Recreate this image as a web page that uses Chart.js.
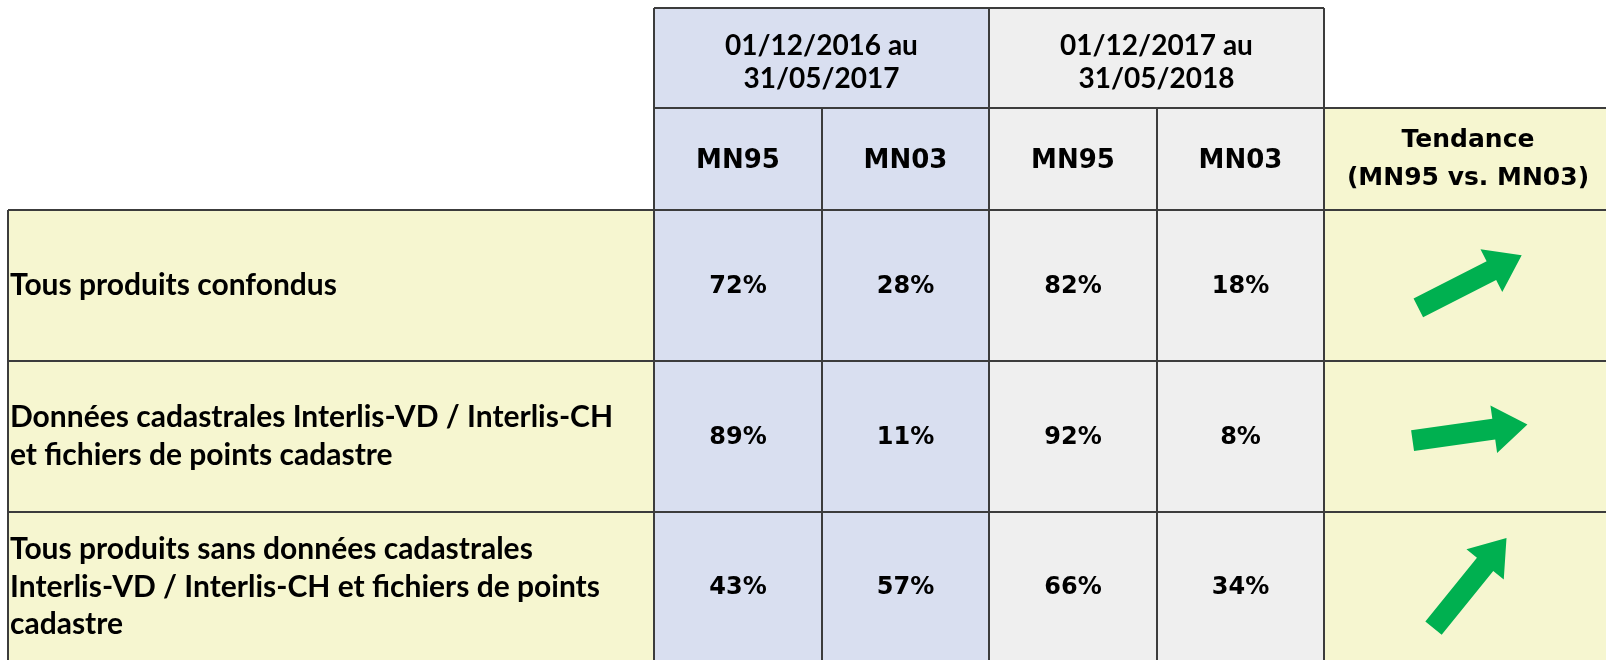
<!DOCTYPE html>
<html>
<head>
<meta charset="utf-8">
<script src="https://cdn.jsdelivr.net/npm/chart.js@4.4.1/dist/chart.umd.min.js"></script>
<style>
    html, body { margin: 0; padding: 0; background: #ffffff; }
</style>
</head>
<body>
<canvas id="tableChart" width="1606" height="660"></canvas>
<script>
// Table content
const periods = [['01/12/2016 au', '31/05/2017'], ['01/12/2017 au', '31/05/2018']];
const systems = ['MN95', 'MN03'];
const categories = [
    ['Tous produits confondus'],
    ['Données cadastrales Interlis-VD / Interlis-CH', 'et fichiers de points cadastre'],
    ['Tous produits sans données cadastrales', 'Interlis-VD / Interlis-CH et fichiers de points', 'cadastre']
];
const trendTitle = ['Tendance', '(MN95 vs. MN03)'];

// Shares in % per period and system
const mn95Period1 = [72, 89, 43];
const mn03Period1 = [28, 11, 57];
const mn95Period2 = [82, 92, 66];
const mn03Period2 = [18, 8, 34];
const valueColumns = [mn95Period1, mn03Period1, mn95Period2, mn03Period2];

// Trend arrow angles (degrees above horizontal)
const trendAngles = [27, 8, 51];

// Grid layout in scale units (x: 0..1606, y: 0..660)
const colEdges = [8, 654, 822, 989, 1157, 1324, 1606];
const rowEdges = [8, 108, 210, 361, 512, 664];

const periodColors = ['#d9dff0', '#efefef'];
const yellow = '#f6f6d0';
const lineColor = '#3c3c3c';
const green = '#00b050';

const labelFont = 'bold 30px Lato';
const periodFont = 'bold 28px Lato';
const headFont = 'bold 26px "DejaVu Sans"';
const valueFont = 'bold 24px "DejaVu Sans"';
const trendFont = 'bold 25px "DejaVu Sans"';

// Draws the whole table through the chart's scales
const tablePlugin = {
    id: 'tablePlugin',
    beforeDatasetsDraw(chart) {
        const ctx = chart.ctx;
        const xs = chart.scales.x;
        const ys = chart.scales.y;
        const px = v => xs.getPixelForValue(v);
        const py = v => ys.getPixelForValue(v);
        const lastRow = rowEdges[rowEdges.length - 1];

        function fillCell(x0, x1, y0, y1, color) {
            ctx.fillStyle = color;
            ctx.fillRect(px(x0), py(y0), px(x1) - px(x0), py(y1) - py(y0));
        }
        function line(x0, y0, x1, y1) {
            ctx.beginPath();
            ctx.moveTo(px(x0), py(y0));
            ctx.lineTo(px(x1), py(y1));
            ctx.stroke();
        }
        function text(lines, cx, cy, font, spacing, align) {
            ctx.font = font;
            ctx.fillStyle = '#000000';
            ctx.textAlign = align || 'center';
            ctx.textBaseline = 'middle';
            const start = cy - (lines.length - 1) * spacing / 2;
            lines.forEach((t, i) => ctx.fillText(t, px(cx), py(start + i * spacing)));
        }
        function drawArrow(cx, cy, angle) {
            const len = 116, shaft = 21, headW = 48, headL = 34;
            ctx.save();
            ctx.translate(px(cx), py(cy));
            ctx.rotate(-angle * Math.PI / 180);
            ctx.fillStyle = green;
            ctx.beginPath();
            ctx.moveTo(-len / 2, -shaft / 2);
            ctx.lineTo(len / 2 - headL, -shaft / 2);
            ctx.lineTo(len / 2 - headL, -headW / 2);
            ctx.lineTo(len / 2, 0);
            ctx.lineTo(len / 2 - headL, headW / 2);
            ctx.lineTo(len / 2 - headL, shaft / 2);
            ctx.lineTo(-len / 2, shaft / 2);
            ctx.closePath();
            ctx.fill();
            ctx.restore();
        }

        ctx.save();

        // backgrounds
        fillCell(colEdges[0], colEdges[1], rowEdges[2], lastRow, yellow);
        periods.forEach((p, i) => {
            fillCell(colEdges[1 + 2 * i], colEdges[3 + 2 * i], rowEdges[0], lastRow, periodColors[i]);
        });
        fillCell(colEdges[5], colEdges[6], rowEdges[1], lastRow, yellow);

        // grid lines
        ctx.strokeStyle = lineColor;
        ctx.lineWidth = 2;
        line(colEdges[1], rowEdges[0], colEdges[5], rowEdges[0]);
        line(colEdges[1], rowEdges[1], colEdges[6], rowEdges[1]);
        for (let r = 2; r < rowEdges.length - 1; r++) {
            line(colEdges[0], rowEdges[r], colEdges[6], rowEdges[r]);
        }
        line(colEdges[0], rowEdges[2], colEdges[0], lastRow);
        [1, 3, 5].forEach(c => line(colEdges[c], rowEdges[0], colEdges[c], lastRow));
        [2, 4].forEach(c => line(colEdges[c], rowEdges[1], colEdges[c], lastRow));

        // header texts
        periods.forEach((p, i) => {
            const cx = (colEdges[1 + 2 * i] + colEdges[3 + 2 * i]) / 2;
            text(p, cx, (rowEdges[0] + rowEdges[1]) / 2 + 4, periodFont, 33);
            systems.forEach((s, j) => {
                const c = 1 + 2 * i + j;
                text([s], (colEdges[c] + colEdges[c + 1]) / 2, (rowEdges[1] + rowEdges[2]) / 2 + 2, headFont, 0);
            });
        });
        text(trendTitle, (colEdges[5] + colEdges[6]) / 2 + 3, (rowEdges[1] + rowEdges[2]) / 2, trendFont, 38);

        // body rows
        categories.forEach((lines, r) => {
            const y0 = rowEdges[2 + r];
            const y1 = rowEdges[3 + r];
            const cy = r === 2 ? 587 : (y0 + y1) / 2;
            text(lines, colEdges[0] + 2, cy, labelFont, 37.5, 'left');
            valueColumns.forEach((col, c) => {
                text([col[r] + '%'], (colEdges[1 + c] + colEdges[2 + c]) / 2, cy + 1, valueFont, 0);
            });
            drawArrow((colEdges[5] + colEdges[6]) / 2 + 5, cy - 4, trendAngles[r]);
        });

        ctx.restore();
    }
};

const ctx = document.getElementById('tableChart').getContext('2d');
const tableChart = new Chart(ctx, {
    type: 'scatter',
    data: { datasets: [] },
    options: {
        responsive: false,
        animation: false,
        layout: { padding: 0 },
        scales: {
            x: { type: 'linear', min: 0, max: 1606, display: false },
            y: { type: 'linear', min: 0, max: 660, reverse: true, display: false }
        },
        plugins: {
            legend: { display: false },
            tooltip: { enabled: false }
        }
    },
    plugins: [tablePlugin]
});
</script>
</body>
</html>
